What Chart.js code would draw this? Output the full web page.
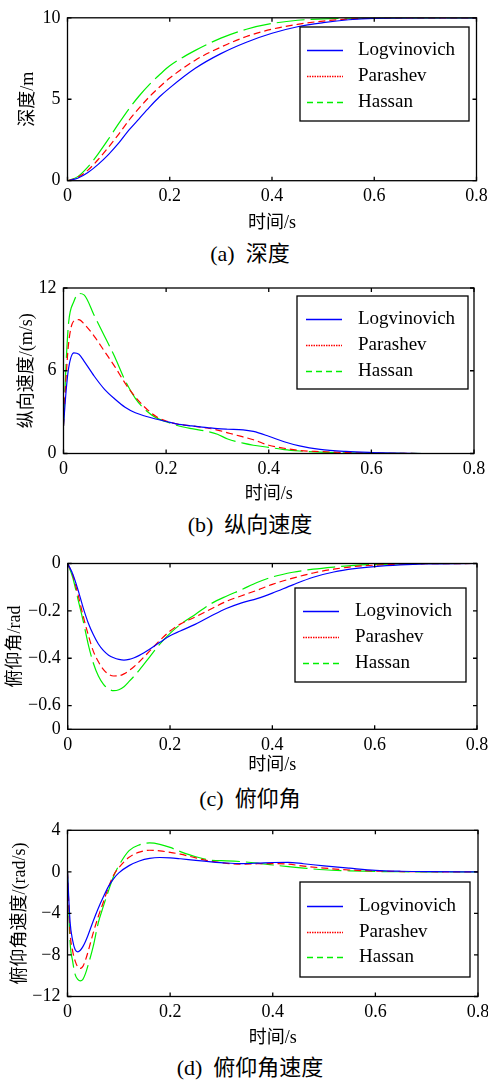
<!DOCTYPE html>
<html>
<head>
<meta charset="utf-8">
<script src="https://cdn.jsdelivr.net/npm/chart.js@4.4.0/dist/chart.umd.min.js"></script>
<style>
  html, body { margin: 0; padding: 0; background: #fff; width: 488px; height: 1081px; overflow: hidden; position: relative; }
  .panel { position: absolute; left: 0; width: 500px; }
  .cap { position: absolute; left: 0; width: 500px; text-align: center; color: #000;
         font: 22px "Liberation Serif", "Noto Sans CJK SC"; line-height: 22px; white-space: pre; }
</style>
</head>
<body>
<div class="panel" style="top:0;height:234px"><canvas id="cA"></canvas></div>
<div class="cap" style="top:243px">(a)  深度</div>
<div class="panel" style="top:270px;height:235px"><canvas id="cB"></canvas></div>
<div class="cap" style="top:514px">(b)  纵向速度</div>
<div class="panel" style="top:540px;height:236px"><canvas id="cC"></canvas></div>
<div class="cap" style="top:788px">(c)  俯仰角</div>
<div class="panel" style="top:810px;height:239px"><canvas id="cD"></canvas></div>
<div class="cap" style="top:1057px">(d)  俯仰角速度</div>

<script>
const seriesNames = ["Logvinovich", "Parashev", "Hassan"];
const xTicks = [0, 0.2, 0.4, 0.6, 0.8];
const xTickLabels = ["0", "0.2", "0.4", "0.6", "0.8"];

// (a) depth
const tA = [0, 0.02, 0.04, 0.06, 0.08, 0.10, 0.12, 0.14, 0.16, 0.18, 0.20, 0.25, 0.30, 0.35, 0.40, 0.45, 0.50, 0.55, 0.60, 0.70, 0.80];
const depthLog = [0, 0.15, 0.5, 1.0, 1.6, 2.3, 3.1, 3.8, 4.5, 5.15, 5.7, 6.9, 7.8, 8.5, 9.05, 9.45, 9.7, 9.88, 9.97, 10, 10];
const depthPar = [0, 0.2, 0.65, 1.3, 2.05, 2.85, 3.7, 4.45, 5.15, 5.75, 6.3, 7.4, 8.2, 8.85, 9.3, 9.6, 9.8, 9.92, 9.98, 10, 10];
const depthHas = [0, 0.25, 0.85, 1.65, 2.55, 3.5, 4.4, 5.2, 5.9, 6.5, 7.05, 8.0, 8.75, 9.3, 9.65, 9.85, 9.93, 9.98, 10, 10, 10];
const yTicksA = [0, 5, 10];
const yLabelsA = ["0", "5", "10"];

// (b) longitudinal velocity
const tB = [0, 0.005, 0.01, 0.02, 0.03, 0.04, 0.06, 0.08, 0.10, 0.12, 0.14, 0.16, 0.18, 0.20, 0.22, 0.25, 0.28, 0.30, 0.32, 0.35, 0.37, 0.40, 0.43, 0.46, 0.50, 0.55, 0.60, 0.65, 0.70, 0.80];
const velLog = [2.0, 4.5, 6.2, 7.3, 7.2, 6.7, 5.6, 4.65, 3.95, 3.35, 2.95, 2.7, 2.5, 2.32, 2.15, 2.0, 1.88, 1.8, 1.76, 1.72, 1.6, 1.25, 0.85, 0.55, 0.3, 0.15, 0.07, 0.02, 0, 0];
const velPar = [2.0, 5.5, 8.0, 9.6, 9.7, 9.4, 8.5, 7.4, 6.3, 5.1, 4.1, 3.3, 2.7, 2.35, 2.15, 2.0, 1.85, 1.7, 1.5, 1.2, 1.0, 0.6, 0.38, 0.22, 0.14, 0.07, 0.03, 0.01, 0, 0];
const velHas = [2.0, 6.5, 9.5, 11.0, 11.6, 11.5, 10.0, 8.5, 7.0, 5.3, 4.0, 3.15, 2.6, 2.3, 2.05, 1.8, 1.6, 1.4, 1.05, 0.75, 0.6, 0.45, 0.28, 0.18, 0.1, 0.05, 0.02, 0.01, 0, 0];
const yTicksB = [0, 6, 12];
const yLabelsB = ["0", "6", "12"];

// (c) pitch angle
const tC = [0, 0.01, 0.02, 0.03, 0.04, 0.05, 0.06, 0.07, 0.08, 0.09, 0.10, 0.11, 0.12, 0.13, 0.14, 0.16, 0.18, 0.20, 0.22, 0.25, 0.28, 0.31, 0.34, 0.37, 0.40, 0.44, 0.48, 0.52, 0.56, 0.60, 0.65, 0.70, 0.80];
const pitchLog = [0, -0.045, -0.11, -0.185, -0.25, -0.30, -0.34, -0.368, -0.387, -0.398, -0.405, -0.408, -0.405, -0.398, -0.388, -0.362, -0.333, -0.305, -0.285, -0.256, -0.222, -0.19, -0.166, -0.148, -0.125, -0.09, -0.058, -0.036, -0.022, -0.013, -0.006, -0.002, 0];
const pitchPar = [0, -0.05, -0.13, -0.22, -0.30, -0.37, -0.415, -0.448, -0.468, -0.475, -0.474, -0.466, -0.452, -0.435, -0.415, -0.37, -0.325, -0.285, -0.256, -0.225, -0.192, -0.16, -0.136, -0.113, -0.088, -0.062, -0.04, -0.024, -0.013, -0.007, -0.003, -0.001, 0];
const pitchHas = [0, -0.06, -0.15, -0.24, -0.34, -0.42, -0.475, -0.51, -0.53, -0.537, -0.533, -0.52, -0.498, -0.475, -0.45, -0.395, -0.34, -0.295, -0.258, -0.214, -0.17, -0.138, -0.11, -0.08, -0.057, -0.037, -0.024, -0.015, -0.008, -0.004, -0.002, 0, 0];
const yTicksC = [-0.7, -0.6, -0.4, -0.2, 0];
const yLabelsC = ["0", "\u22120.6", "\u22120.4", "\u22120.2", "0"];

// (d) pitch rate
const tD = [0, 0.005, 0.01, 0.015, 0.02, 0.025, 0.03, 0.035, 0.04, 0.05, 0.06, 0.07, 0.08, 0.09, 0.10, 0.12, 0.14, 0.16, 0.18, 0.20, 0.22, 0.25, 0.28, 0.31, 0.34, 0.37, 0.40, 0.43, 0.46, 0.50, 0.55, 0.60, 0.65, 0.70, 0.80];
const rateLog = [0, -4.8, -6.6, -7.5, -7.7, -7.55, -7.2, -6.7, -6.1, -4.75, -3.5, -2.4, -1.4, -0.65, -0.1, 0.6, 1.05, 1.3, 1.38, 1.35, 1.26, 1.1, 0.96, 0.85, 0.8, 0.84, 0.9, 0.92, 0.78, 0.57, 0.35, 0.15, 0.06, 0.02, 0];
const ratePar = [0, -5.8, -7.6, -8.6, -9.15, -9.3, -9.1, -8.5, -7.7, -5.9, -4.3, -2.9, -1.45, -0.3, 0.4, 1.4, 1.9, 2.08, 2.02, 1.88, 1.7, 1.35, 1.02, 0.82, 0.75, 0.78, 0.8, 0.75, 0.55, 0.36, 0.18, 0.08, 0.03, 0.01, 0];
const rateHas = [0, -6.7, -8.6, -9.9, -10.35, -10.5, -10.35, -9.8, -9.0, -7.2, -4.9, -3.3, -1.8, -0.4, 0.6, 2.05, 2.6, 2.78, 2.65, 2.35, 1.95, 1.45, 1.12, 1.06, 0.98, 0.84, 0.66, 0.5, 0.36, 0.2, 0.1, 0.04, 0.01, 0, 0];
const yTicksD = [-12, -8, -4, 0, 4];
const yLabelsD = ["\u221212", "\u22128", "\u22124", "0", "4"];

const colors = ["#0000ff", "#ff0000", "#00f000"];
const plotDash = [[], [7, 4], [28, 6]];
const legendDash = [[], [1.5, 1], [6, 4]];
const tickFont = { family: "Liberation Serif", size: 18 };
const titleFont = { family: "'Liberation Serif', 'Noto Sans CJK SC'", size: 18 };

// box + inward tick marks on all four sides
const framePlugin = {
  id: "frame",
  afterDatasetsDraw(chart) {
    const { ctx, chartArea: a, scales: { x, y } } = chart;
    ctx.save();
    ctx.strokeStyle = "#000";
    ctx.lineWidth = 1.3;
    ctx.strokeRect(a.left, a.top, a.right - a.left, a.bottom - a.top);
    ctx.beginPath();
    x.ticks.forEach(t => {
      const px = x.getPixelForValue(t.value);
      ctx.moveTo(px, a.bottom); ctx.lineTo(px, a.bottom - 4);
      ctx.moveTo(px, a.top); ctx.lineTo(px, a.top + 4);
    });
    y.ticks.forEach(t => {
      const py = y.getPixelForValue(t.value);
      ctx.moveTo(a.left, py); ctx.lineTo(a.left + 4, py);
      ctx.moveTo(a.right, py); ctx.lineTo(a.right - 4, py);
    });
    ctx.stroke();
    ctx.restore();
  }
};

// legend box drawn inside the plot, like the matlab one
const boxLegend = {
  id: "boxLegend",
  afterDraw(chart, args, o) {
    const ctx = chart.ctx;
    ctx.save();
    ctx.fillStyle = "#fff";
    ctx.fillRect(o.x, o.y, o.w, o.h);
    ctx.strokeStyle = "#000";
    ctx.lineWidth = 1.3;
    ctx.strokeRect(o.x, o.y, o.w, o.h);
    chart.data.datasets.forEach((ds, i) => {
      const ry = o.rows[i] + 0.5;
      ctx.beginPath();
      ctx.strokeStyle = ds.borderColor;
      ctx.lineWidth = 1.5;
      ctx.setLineDash(legendDash[i]);
      ctx.moveTo(o.line[0], ry);
      ctx.lineTo(o.line[1], ry);
      ctx.stroke();
      ctx.setLineDash([]);
      ctx.fillStyle = "#000";
      ctx.font = "19px 'Liberation Serif'";
      ctx.textBaseline = "middle";
      ctx.fillText(ds.label, o.textX, o.rows[i]);
    });
    ctx.restore();
  }
};

function makeChart(id, t, series, yMin, yMax, yTicks, yLabels, yTitle, lay, leg) {
  const datasets = series.map((vals, i) => ({
    label: seriesNames[i],
    data: t.map((x, j) => ({ x: x, y: vals[j] })),
    borderColor: colors[i],
    borderWidth: 1.2,
    borderDash: plotDash[i],
    pointRadius: 0,
    fill: false,
    cubicInterpolationMode: "monotone"
  }));
  return new Chart(document.getElementById(id), {
    type: "line",
    data: { datasets: datasets },
    plugins: [framePlugin, boxLegend],
    options: {
      animation: false,
      responsive: true,
      maintainAspectRatio: false,
      devicePixelRatio: 1,
      layout: { padding: lay.pad },
      plugins: {
        legend: { display: false },
        tooltip: { enabled: false },
        boxLegend: leg
      },
      scales: {
        x: {
          type: "linear", min: 0, max: 0.8,
          afterBuildTicks: s => { s.ticks = xTicks.map(v => ({ value: v })); },
          afterFit: s => { s.height = lay.xh; },
          grid: { display: false, drawTicks: false },
          border: { display: false },
          ticks: { font: tickFont, color: "#000", padding: 5, maxRotation: 0, autoSkip: false,
                   callback: (v, i) => xTickLabels[i] },
          title: { display: true, text: "时间/s", font: titleFont, color: "#000", padding: 0 }
        },
        y: {
          type: "linear", min: yMin, max: yMax,
          afterBuildTicks: s => { s.ticks = yTicks.map(v => ({ value: v })); },
          afterFit: s => { s.width = lay.yw; },
          grid: { display: false, drawTicks: false },
          border: { display: false },
          ticks: { font: tickFont, color: "#000", padding: 7, autoSkip: false,
                   callback: (v, i) => yLabels[i] },
          title: { display: true, text: yTitle, font: titleFont, color: "#000", padding: 0 }
        }
      }
    }
  });
}

makeChart("cA", tA, [depthLog, depthPar, depthHas], 0, 10, yTicksA, yLabelsA, "深度/m",
  { pad: { top: 14, left: 17, right: 23.5, bottom: 0 }, yw: 50.5, xh: 53.3 },
  { x: 300, y: 27, w: 169, h: 94, rows: [50, 76, 102], line: [307, 343], textX: 358 });

makeChart("cB", tB, [velLog, velPar, velHas], 0, 12, yTicksB, yLabelsB, "纵向速度/(m/s)",
  { pad: { top: 18, left: 16, right: 26, bottom: 0 }, yw: 47.5, xh: 51.5 },
  { x: 297, y: 26, w: 171, h: 93, rows: [49, 75, 101], line: [306, 342], textX: 358 });

makeChart("cC", tC, [pitchLog, pitchPar, pitchHas], -0.7, 0, yTicksC, yLabelsC, "俯仰角/rad",
  { pad: { top: 23.5, left: 4, right: 23, bottom: 0 }, yw: 63.7, xh: 46.7 },
  { x: 295, y: 48, w: 171, h: 94, rows: [71, 97, 123], line: [303, 339], textX: 355 });

makeChart("cD", tD, [rateLog, ratePar, rateHas], -12, 4, yTicksD, yLabelsD, "俯仰角速度/(rad/s)",
  { pad: { top: 20.3, left: 9, right: 22, bottom: 0 }, yw: 58.5, xh: 52.5 },
  { x: 300, y: 72, w: 170, h: 95, rows: [96, 122, 147], line: [307, 343], textX: 359 });
</script>
</body>
</html>
